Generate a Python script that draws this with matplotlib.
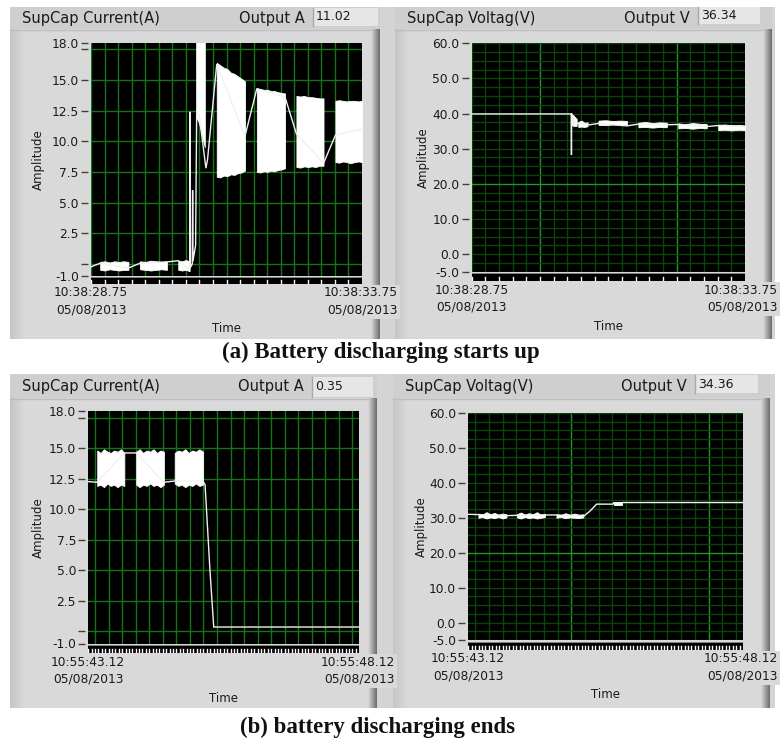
import numpy as np
import matplotlib
matplotlib.use("Agg")
import matplotlib.pyplot as plt

plt.rcParams['font.family'] = ['DejaVu Sans']

# ---------------------------------------------------------------- data ---
# Time is in seconds from the left edge of each 5 s window.
# Bursts are the fast switching stretches, drawn as a filled envelope.

# (a) battery discharging starts up, window 10:38:28.75 - 10:38:33.75
win_a_start, win_a_end, win_a_sec = "10:38:28.75", "10:38:33.75", 28.75
cur_up_t = [0.00, 0.17, 0.69, 0.905, 1.40, 1.61, 1.80, 1.825, 1.83, 1.835,
            1.87, 1.875, 1.88, 1.93, 1.95, 2.00, 2.12, 2.15, 2.32, 2.84,
            3.06, 3.58, 3.79, 4.29, 4.51, 5.00]
cur_up_v = [-0.25, 0.05, -0.35, 0.05, 0.15, 0.25, -0.40, -0.30, 12.4, -0.30,
            0.00, 6.0, 0.20, 1.5, 12.5, 12.0, 7.8, 8.5, 16.3, 10.4,
            14.3, 13.6, 10.6, 8.2, 10.5, 11.0]
cur_up_burst_span = [(0.17, 0.69), (0.905, 1.40), (1.61, 1.82), (1.94, 2.10),
                     (2.32, 2.84), (3.06, 3.58), (3.79, 4.29), (4.51, 5.00)]
cur_up_burst_high = [
    [0.15, 0.2, 0.1, 0.2, 0.15, 0.2, 0.15],
    [0.2, 0.15, 0.25, 0.2, 0.15, 0.2],
    [0.25, 0.2, 0.3, 0.2],
    [19.0, 19.0, 19.0, 19.0],
    [16.4, 16.2, 16.0, 15.9, 15.6, 15.5, 15.3, 15.1, 14.9],
    [14.3, 14.25, 14.2, 14.2, 14.1, 14.1, 14.0, 13.95, 13.9],
    [13.7, 13.65, 13.7, 13.6, 13.6, 13.55, 13.5, 13.5],
    [13.3, 13.35, 13.3, 13.25, 13.3, 13.3, 13.25, 13.3],
]
cur_up_burst_low = [
    [-0.5, -0.55, -0.45, -0.5, -0.55, -0.5, -0.5],
    [-0.45, -0.5, -0.55, -0.5, -0.45, -0.5],
    [-0.5, -0.55, -0.5, -0.6],
    [12.0, 11.5, 10.5, 9.5],
    [7.1, 7.05, 7.2, 7.15, 7.3, 7.25, 7.4, 7.45, 7.6],
    [7.5, 7.45, 7.55, 7.5, 7.6, 7.55, 7.65, 7.7, 7.8],
    [7.9, 7.85, 7.95, 7.9, 7.95, 7.9, 8.0, 8.0],
    [8.3, 8.25, 8.35, 8.3, 8.2, 8.3, 8.35, 8.3],
]
out_up_current = "11.02"

vol_up_t = [0.00, 1.82, 1.825, 1.83, 1.84, 1.86, 1.90, 1.95, 2.16, 2.32,
            2.84, 3.05, 3.57, 3.78, 4.30, 4.51, 5.00]
vol_up_v = [39.9, 39.9, 28.2, 40.0, 36.5, 39.5, 37.0, 37.3, 36.8, 37.2,
            36.5, 37.0, 36.8, 36.9, 36.3, 36.6, 36.3]
vol_up_burst_span = [(1.85, 1.92), (1.95, 2.12), (2.32, 2.84), (3.05, 3.57),
                     (3.78, 4.30), (4.51, 5.00)]
vol_up_burst_high = [
    [39.6, 38.5],
    [37.6, 38.0, 37.4, 37.5],
    [38.0, 38.1, 37.9, 38.0, 37.9],
    [37.4, 37.6, 37.3, 37.5, 37.4],
    [37.2, 37.0, 37.3, 37.1, 37.0],
    [36.8, 36.9, 36.7, 36.8, 36.6],
]
vol_up_burst_low = [
    [36.5, 36.5],
    [36.2, 36.3, 36.2, 36.4],
    [36.8, 36.7, 36.9, 36.8, 36.9],
    [36.1, 36.2, 36.0, 36.2, 36.1],
    [35.8, 35.9, 35.7, 35.9, 35.8],
    [35.3, 35.4, 35.2, 35.4, 35.3],
]
out_up_voltage = "36.34"

# (b) battery discharging ends, window 10:55:43.12 - 10:55:48.12
win_b_start, win_b_end, win_b_sec = "10:55:43.12", "10:55:48.12", 43.12
cur_dn_t = [0.00, 0.17, 0.67, 0.89, 1.40, 1.60, 2.12, 2.16, 2.25, 2.32, 5.00]
cur_dn_v = [12.25, 12.2, 14.6, 14.6, 12.2, 12.3, 12.3, 12.0, 5.0, 0.35, 0.35]
cur_dn_burst_span = [(0.17, 0.67), (0.89, 1.40), (1.60, 2.12)]
cur_dn_burst_high = [
    [14.8, 14.6, 14.9, 14.7, 14.6, 14.8, 14.7, 14.9, 14.6],
    [14.7, 14.9, 14.6, 14.8, 14.7, 14.9, 14.6, 14.8, 14.7],
    [14.6, 14.8, 14.7, 14.9, 14.6, 14.8, 14.7, 14.9, 14.7],
]
cur_dn_burst_low = [
    [11.9, 12.0, 11.8, 12.1, 11.9, 12.0, 11.8, 12.0, 11.9],
    [12.0, 11.8, 12.0, 11.9, 12.1, 11.9, 12.0, 11.8, 12.0],
    [12.1, 11.9, 12.0, 11.8, 12.0, 11.9, 12.1, 11.9, 12.0],
]
out_dn_current = "0.35"

vol_dn_t = [0.00, 0.19, 0.70, 0.89, 1.40, 1.61, 2.10, 2.22, 2.34, 2.64,
            2.65, 2.80, 2.81, 5.00]
vol_dn_v = [31.0, 30.9, 30.6, 30.7, 30.8, 30.8, 30.4, 31.9, 33.9, 33.9,
            34.3, 34.3, 34.36, 34.36]
vol_dn_burst_span = [(0.19, 0.70), (0.89, 1.40), (1.61, 2.10), (2.65, 2.80)]
vol_dn_burst_high = [
    [31.2, 30.9, 31.6, 31.0, 31.4, 30.9, 31.2, 31.0],
    [31.0, 31.5, 30.9, 31.3, 31.0, 31.6, 30.9, 31.1],
    [31.0, 30.8, 31.3, 30.9, 31.2, 30.9, 31.0],
    [34.5, 34.5],
]
vol_dn_burst_low = [
    [30.0, 30.2, 29.8, 30.1, 29.9, 30.2, 29.8, 30.1],
    [30.1, 29.8, 30.2, 29.9, 30.1, 29.8, 30.0, 30.2],
    [30.0, 30.2, 29.9, 30.1, 30.0, 29.9, 30.1],
    [33.7, 33.7],
]
out_dn_voltage = "34.36"

date_label = "05/08/2013"

cur_ticks = [-1.0, 0.0, 2.5, 5.0, 7.5, 10.0, 12.5, 15.0, 17.5, 18.0]
cur_tick_labels = ["-1.0", "", "2.5", "5.0", "7.5", "10.0", "12.5", "15.0", "", "18.0"]
cur_grid = [0.0, 2.5, 5.0, 7.5, 10.0, 12.5, 15.0, 17.5]
vol_ticks = [-5.0, 0.0, 10.0, 20.0, 30.0, 40.0, 50.0, 60.0]
vol_tick_labels = ["-5.0", "0.0", "10.0", "20.0", "30.0", "40.0", "50.0", "60.0"]
vol_grid = list(np.arange(-5.0, 60.1, 2.5))
vol_grid_major = [20.0]

# ------------------------------------------------------------- layout ---
W, H = 780, 740
fig = plt.figure(figsize=(W / 100, H / 100), dpi=100)
fig.patch.set_facecolor("white")
PT = 72 / 100  # points per pixel

def fbox(x0, y0, x1, y1):
    return [x0 / W, 1 - y1 / H, (x1 - x0) / W, (y1 - y0) / H]

bg = fig.add_axes([0, 0, 1, 1], zorder=0)
bg.axis("off")

PANEL = "#d4d4d4"
BODY = "#d9d9d9"
HEAD = "#cfcfcf"
TXT = "#1a1a1a"
LBL = 8.8

def rect(x0, y0, x1, y1, color, z=1):
    bg.add_patch(plt.Rectangle((x0, y0), x1 - x0, y1 - y0, fc=color, ec="none", zorder=z))

def hgrad(x0, y0, x1, y1, c0, c1, z=2):
    g = np.linspace(c0, c1, 32)[None, :]
    bg.imshow(g, extent=(x0, x1, y1, y0), cmap="gray", vmin=0, vmax=1,
              aspect="auto", zorder=z, interpolation="bilinear")

# row backgrounds
rect(10, 7, 775, 339, PANEL)
rect(10, 374, 775, 708, PANEL)


def graph(frame, plot, strip, title, out_name, out_val, box, ylim, ticks,
          tick_labels, hgrid, hmajor, t0_sec, start_lbl, end_lbl,
          tr_t, tr_v, b_span, b_low, b_high, grid_col, major_col, strip_step):
    fx0, fy0, fx1, fhy, fy1 = frame
    px0, py0, px1, py1 = plot
    # frame: header strip, body, raised left band, shaded right edge
    rect(fx0, fy0, fx1, fhy, HEAD, 1)
    rect(fx0, fhy, fx1, fy1, BODY, 1)
    hgrad(fx0, fhy, fx0 + 14, fy1, 0.77, 0.85)
    hgrad(fx1 - 9, fhy, fx1, fy1, 0.85, 0.42)
    bg.plot([fx0, fx1 - 9], [fhy + 0.5, fhy + 0.5], color="#bdbdbd", lw=1, zorder=3)

    # header texts and numeric indicator
    hy = (fy0 + fhy) / 2
    bg.text(fx0 + 12, hy, title, fontsize=10.5, color=TXT, va="center", ha="left", zorder=5)
    bx0, by0, bx1, by1 = box
    bg.text(bx0 - 8, hy, out_name, fontsize=10.5, color=TXT, va="center", ha="right", zorder=5)
    rect(bx0, by0, bx1, by1, "#e6e6e6", 4)
    bg.plot([bx0, bx0], [by0, by1], color="#a8a8a8", lw=1, zorder=5)
    bg.text(bx0 + 3, (by0 + by1) / 2, out_val, fontsize=9, color=TXT,
            va="center", ha="left", zorder=5)

    # axis titles and time labels
    bg.text(fx0 + 28, (py0 + py1) / 2, "Amplitude", rotation=90, fontsize=8.5,
            color=TXT, ha="center", va="center", zorder=5)
    sb = strip[1]
    lx = px0 - 37
    bg.text(lx, sb + 9, start_lbl, fontsize=LBL, color=TXT, ha="left", va="center", zorder=5)
    bg.text(lx + 2, sb + 26, date_label, fontsize=LBL, color=TXT, ha="left", va="center", zorder=5)
    rx = min(px1 + 36, 778)
    rect(rx - 75, sb + 1, rx + 2, sb + 35, BODY, 5)
    bg.text(rx, sb + 9, end_lbl, fontsize=LBL, color=TXT, ha="right", va="center", zorder=6)
    bg.text(rx, sb + 26, date_label, fontsize=LBL, color=TXT, ha="right", va="center", zorder=6)
    bg.text((px0 + px1) / 2, sb + 45, "Time", fontsize=8.5, color=TXT,
            ha="center", va="center", zorder=5)

    # plot area
    ax = fig.add_axes(fbox(px0, py0, px1, py1), zorder=3)
    ax.set_facecolor("black")
    ax.set_xlim(0, 5)
    ax.set_ylim(*ylim)
    for s in ax.spines.values():
        s.set_visible(False)
    ax.spines["left"].set_position(("outward", 3 * PT))
    ax.set_xticks([])
    ax.set_yticks(ticks)
    ax.set_yticklabels(tick_labels)
    ax.tick_params(axis="y", direction="out", length=7 * PT, width=1,
                   color="#404040", labelsize=LBL, labelcolor=TXT, pad=2 * PT)

    first = np.ceil(t0_sec / 0.25 - 1e-9) * 0.25
    vgrid = np.arange(first, t0_sec + 5, 0.25) - t0_sec
    for x in vgrid:
        q = (x + t0_sec) / 2.5
        on_major = abs(q - round(q)) < 1e-6
        col = major_col if (on_major and major_col) else grid_col
        ax.axvline(x, color=col, lw=1, zorder=1)
    for y in hgrid:
        col = major_col if (major_col and y in hmajor) else grid_col
        ax.axhline(y, color=col, lw=1, zorder=1)

    for (a, b), lo, hi in zip(b_span, b_low, b_high):
        xs = np.linspace(a, b, len(lo))
        ax.fill_between(xs, lo, hi, color="white", lw=0.6, edgecolor="white", zorder=3)
    ax.plot(tr_t, tr_v, color="#f0f0f0", lw=1.0, zorder=4, solid_joinstyle="miter")

    # time scale strip
    sx = fig.add_axes(fbox(px0, strip[0], px1, strip[1]), zorder=3)
    sx.set_facecolor("black")
    sx.set_xlim(0, 5)
    sx.set_ylim(0, 1)
    sx.set_xticks([])
    sx.set_yticks([])
    for s in sx.spines.values():
        s.set_visible(False)
    sx.axhline(1.0, color="#9a9a9a", lw=1.2)
    first = np.ceil(t0_sec / strip_step - 1e-9) * strip_step
    for x in np.arange(first, t0_sec + 5, strip_step) - t0_sec:
        sx.plot([x, x], [0.0, 0.55], color="white", lw=1)
    return ax


G_CUR = "#187318"
G_MIN = "#0a440a"
G_MAJ = "#23962a"

graph((10, 7, 380, 29, 339), (91, 43.25, 362, 276), (277, 284),
      "SupCap Current(A)", "Output A", out_up_current, (313, 8, 378, 26),
      (-1, 18), cur_ticks, cur_tick_labels, cur_grid, [], win_a_sec,
      win_a_start, win_a_end, cur_up_t, cur_up_v, cur_up_burst_span,
      cur_up_burst_low, cur_up_burst_high, G_CUR, None, 0.25)

graph((395, 7, 772, 29, 339), (471.7, 43.3, 745, 271.7), (273, 281),
      "SupCap Voltag(V)", "Output V", out_up_voltage, (698, 7, 760, 24),
      (-5, 60), vol_ticks, vol_tick_labels, vol_grid, vol_grid_major,
      win_a_sec, win_a_start, win_a_end, vol_up_t, vol_up_v, vol_up_burst_span,
      vol_up_burst_low, vol_up_burst_high, G_MIN, G_MAJ, 0.25)

graph((10, 374, 377, 398, 708), (88, 411.4, 359, 643.5), (645, 653),
      "SupCap Current(A)", "Output A", out_dn_current, (312, 377, 373, 397),
      (-1, 18), cur_ticks, cur_tick_labels, cur_grid, [], win_b_sec,
      win_b_start, win_b_end, cur_dn_t, cur_dn_v, cur_dn_burst_span,
      cur_dn_burst_low, cur_dn_burst_high, G_CUR, None, 0.0625)

graph((393, 374, 770, 398, 708), (468, 413, 742.7, 640), (642, 650),
      "SupCap Voltag(V)", "Output V", out_dn_voltage, (695, 375, 758, 393),
      (-5, 60), vol_ticks, vol_tick_labels, vol_grid, vol_grid_major,
      win_b_sec, win_b_start, win_b_end, vol_dn_t, vol_dn_v, vol_dn_burst_span,
      vol_dn_burst_low, vol_dn_burst_high, G_MIN, G_MAJ, 0.0625)

# captions
cap_font = dict(family="Liberation Serif", weight="bold", size=16.5, color="#111111")
bg.text(381, 352, "(a) Battery discharging starts up", ha="center", va="center",
        zorder=5, **cap_font)
bg.text(377, 727, "(b) battery discharging ends", ha="center", va="center",
        zorder=5, **cap_font)

bg.set_xlim(0, W)
bg.set_ylim(H, 0)

fig.savefig("out.png", dpi=100, facecolor="white")
